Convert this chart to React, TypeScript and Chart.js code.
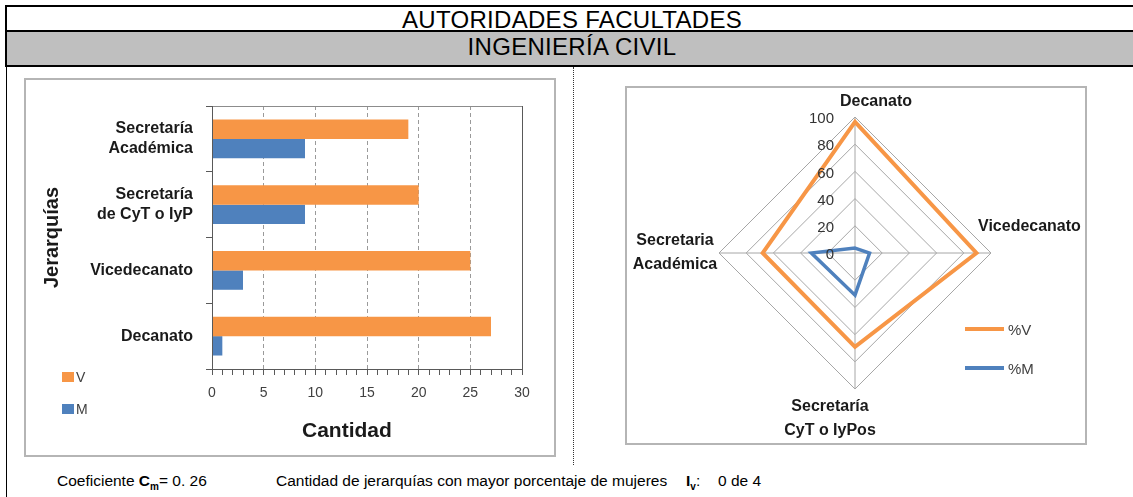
import React, { useEffect, useRef } from 'react';
import { Chart, registerables } from 'chart.js';

Chart.register(...registerables);

// ---------- data ----------
const barCategories: string[][] = [
  ['Secretaría', 'Académica'],
  ['Secretaría', 'de CyT o IyP'],
  ['Vicedecanato'],
  ['Decanato'],
];
const barSeriesNames = ['V', 'M'];
const barV = [19, 20, 25, 27];
const barM = [9, 9, 3, 1];
const barAxisMax = 30;
const barMajorStep = 5;

const radarLabels: string[][] = [
  ['Decanato'],
  ['Vicedecanato'],
  ['Secretaría', 'CyT o IyPos'],
  ['Secretaria', 'Académica'],
];
const radarSeriesNames = ['%V', '%M'];
const radarV = [96.4, 89.3, 69.0, 67.9];
const radarM = [3.6, 10.7, 31.0, 32.1];
const radarMax = 100;
const radarStep = 20;

// ---------- styles ----------
const ORANGE = '#F79646';
const BLUE = '#4F81BD';
const FONT = 'Arial, "Liberation Sans", sans-serif';

// label placement nudges for the radar point labels (dx, dy of first line, align)
const radarLabelPlacement = [
  { dx: 21, dy: -15.5, align: 'center' as CanvasTextAlign },
  { dx: -13, dy: -26, align: 'left' as CanvasTextAlign },
  { dx: -25, dy: 18, align: 'center' as CanvasTextAlign },
  { dx: -44, dy: -12, align: 'center' as CanvasTextAlign },
];

const plotFrame = {
  id: 'plotFrame',
  afterDatasetsDraw(chart: any) {
    const { ctx, chartArea: a } = chart;
    ctx.save();
    ctx.strokeStyle = '#8c8c8c';
    ctx.lineWidth = 1;
    ctx.beginPath();
    ctx.moveTo(Math.round(a.left), Math.round(a.top) + 0.5);
    ctx.lineTo(Math.round(a.right) + 0.5, Math.round(a.top) + 0.5);
    ctx.stroke();
    ctx.strokeStyle = '#595959';
    ctx.beginPath();
    ctx.moveTo(Math.round(a.right) + 0.5, Math.round(a.top));
    ctx.lineTo(Math.round(a.right) + 0.5, Math.round(a.bottom));
    ctx.stroke();
    ctx.restore();
  },
};

const radarText = {
  id: 'radarText',
  afterDatasetsDraw(chart: any) {
    const { ctx } = chart;
    const s = chart.scales.r;
    ctx.save();
    // tick labels
    ctx.fillStyle = '#333333';
    ctx.font = `15px ${FONT}`;
    ctx.textAlign = 'right';
    ctx.textBaseline = 'middle';
    s.ticks.forEach((t: any) => {
      const y = s.yCenter - s.getDistanceFromCenterForValue(t.value);
      ctx.fillText(String(t.value), s.xCenter - 21, y + 2);
    });
    // point labels
    ctx.fillStyle = '#1a1a1a';
    ctx.font = `bold 16px ${FONT}`;
    const lh = 23.5;
    radarLabels.forEach((lines, i) => {
      const p = s.getPointPosition(i, s.drawingArea);
      const pl = radarLabelPlacement[i];
      ctx.textAlign = pl.align;
      lines.forEach((line, j) => {
        ctx.fillText(line, p.x + pl.dx, p.y + pl.dy + j * lh);
      });
    });
    ctx.restore();
  },
};

function BarChart() {
  const ref = useRef<HTMLCanvasElement>(null);
  useEffect(() => {
    if (!ref.current) return;
    const chart = new Chart(ref.current, {
      type: 'bar',
      data: {
        labels: barCategories as any,
        datasets: [
          { label: barSeriesNames[0], data: barV, backgroundColor: ORANGE, borderWidth: 0, categoryPercentage: 0.59, barPercentage: 1 },
          { label: barSeriesNames[1], data: barM, backgroundColor: BLUE, borderWidth: 0, categoryPercentage: 0.59, barPercentage: 1 },
        ],
      },
      options: {
        indexAxis: 'y',
        responsive: false,
        animation: false,
        layout: { padding: { left: 0, right: 32, top: 26, bottom: 0 } },
        plugins: { legend: { display: false }, tooltip: { enabled: false } },
        scales: {
          x: {
            type: 'linear',
            min: 0,
            max: barAxisMax,
            ticks: {
              stepSize: 1,
              autoSkip: false,
              maxRotation: 0,
              minRotation: 0,
              padding: 10,
              color: '#404040',
              font: { family: FONT, size: 14 },
              callback: (v: any) => (Math.round(v) % barMajorStep === 0 ? String(Math.round(v)) : ''),
            },
            grid: {
              color: (ctx: any) => {
                const v = Math.round(ctx.tick ? ctx.tick.value : -1);
                return v % barMajorStep === 0 && v > 0 && v < barAxisMax ? '#9a9a9a' : 'rgba(0,0,0,0)';
              },
              tickColor: '#595959',
              tickLength: 6,
              lineWidth: 1,
            },
            border: { display: true, color: '#595959', width: 1, dash: [4, 3], z: 1 },
            afterFit: (s: any) => {
              s.height = 86;
              s.paddingLeft = 0;
              s.paddingRight = 0;
            },
          } as any,
          y: {
            ticks: {
              padding: 13,
              color: '#1a1a1a',
              font: { family: FONT, size: 16, weight: 'bold', lineHeight: 1.25 },
            },
            grid: { drawOnChartArea: false, tickLength: 6, tickColor: '#595959' },
            border: { color: '#595959', z: 1 },
            title: {
              display: true,
              text: 'Jerarquías',
              color: '#1a1a1a',
              font: { family: FONT, size: 20, weight: 'bold' },
              padding: { top: 14, bottom: 0 },
            },
            afterFit: (s: any) => {
              s.width = 186;
              s.paddingTop = 0;
              s.paddingBottom = 0;
            },
          } as any,
        },
      },
      plugins: [plotFrame],
    });
    return () => chart.destroy();
  }, []);
  return <canvas ref={ref} width={528} height={375} style={{ position: 'absolute', left: 26, top: 80 }} />;
}

function RadarChart() {
  const ref = useRef<HTMLCanvasElement>(null);
  useEffect(() => {
    if (!ref.current) return;
    const chart = new Chart(ref.current, {
      type: 'radar',
      data: {
        labels: radarLabels as any,
        datasets: [
          { label: radarSeriesNames[0], data: radarV, borderColor: ORANGE, backgroundColor: 'rgba(0,0,0,0)', borderWidth: 4, pointRadius: 0, fill: false },
          { label: radarSeriesNames[1], data: radarM, borderColor: BLUE, backgroundColor: 'rgba(0,0,0,0)', borderWidth: 3.5, pointRadius: 0, fill: false },
        ],
      },
      options: {
        responsive: false,
        animation: false,
        layout: { padding: { left: 92, top: 29, right: 94, bottom: 54 } },
        plugins: { legend: { display: false }, tooltip: { enabled: false } },
        scales: {
          r: {
            min: 0,
            max: radarMax,
            ticks: { stepSize: radarStep, display: false },
            pointLabels: { display: false },
            grid: { color: '#a6a6a6', lineWidth: 1 },
            angleLines: { color: '#a6a6a6', lineWidth: 1 },
          },
        },
      },
      plugins: [radarText],
    });
    return () => chart.destroy();
  }, []);
  return <canvas ref={ref} width={458} height={355} style={{ position: 'absolute', left: 627, top: 88 }} />;
}

const abs = (s: React.CSSProperties): React.CSSProperties => ({ position: 'absolute', ...s });
const foot: React.CSSProperties = { position: 'absolute', top: 473, fontSize: 15.5, lineHeight: '15px', whiteSpace: 'nowrap' };
const sub: React.CSSProperties = { fontSize: 10, verticalAlign: 'sub', lineHeight: 0 };

export default function App() {
  return (
    <div style={abs({ left: 0, top: 0, width: 1133, height: 497, overflow: 'hidden', background: '#fff', fontFamily: FONT, color: '#000' })}>
      {/* table header */}
      <div style={abs({ left: 5, top: 5, width: 1140, height: 2, background: '#000' })} />
      <div style={abs({ left: 5, top: 8, width: 1134, height: 24, lineHeight: '24px', fontSize: 24, textAlign: 'center', letterSpacing: 0.3, whiteSpace: 'nowrap' })}>
        AUTORIDADES FACULTADES
      </div>
      <div style={abs({ left: 5, top: 30, width: 1140, height: 2, background: '#000' })} />
      <div style={abs({ left: 5, top: 32, width: 1140, height: 33, background: '#BFBFBF' })} />
      <div style={abs({ left: 5, top: 35, width: 1134, height: 24, lineHeight: '24px', fontSize: 24, textAlign: 'center', letterSpacing: 0.3, whiteSpace: 'nowrap' })}>
        INGENIERÍA CIVIL
      </div>
      <div style={abs({ left: 5, top: 65, width: 1140, height: 2, background: '#000' })} />
      <div style={abs({ left: 5, top: 5, width: 2, height: 62, background: '#000' })} />
      <div style={abs({ left: 6, top: 67, width: 1, height: 430, background: '#000' })} />
      <div style={abs({ left: 573, top: 67, width: 0, height: 398, borderLeft: '1px dotted #333' })} />

      {/* bar chart panel */}
      <div style={abs({ left: 24, top: 78, width: 532, height: 379, border: '2px solid #B5B5B5', boxSizing: 'border-box' })} />
      <BarChart />
      <div style={abs({ left: 302, top: 419, fontSize: 21, lineHeight: '21px', fontWeight: 'bold', color: '#1a1a1a', whiteSpace: 'nowrap' })}>Cantidad</div>
      <div style={abs({ left: 62, top: 372, width: 12, height: 10, background: ORANGE })} />
      <div style={abs({ left: 76, top: 370, fontSize: 14, lineHeight: '14px', color: '#404040' })}>{barSeriesNames[0]}</div>
      <div style={abs({ left: 62, top: 404, width: 12, height: 10, background: BLUE })} />
      <div style={abs({ left: 76, top: 402, fontSize: 14, lineHeight: '14px', color: '#404040' })}>{barSeriesNames[1]}</div>

      {/* radar panel */}
      <div style={abs({ left: 625, top: 86, width: 462, height: 359, border: '2px solid #B5B5B5', boxSizing: 'border-box' })} />
      <RadarChart />
      <div style={abs({ left: 965, top: 327, width: 39, height: 4, background: ORANGE })} />
      <div style={abs({ left: 1008, top: 322, fontSize: 15, lineHeight: '15px', color: '#404040' })}>{radarSeriesNames[0]}</div>
      <div style={abs({ left: 965, top: 366, width: 39, height: 4, background: BLUE })} />
      <div style={abs({ left: 1008, top: 361, fontSize: 15, lineHeight: '15px', color: '#404040' })}>{radarSeriesNames[1]}</div>

      {/* footnote */}
      <div style={{ ...foot, left: 57 }}>
        Coeficiente <b>C</b><b style={sub}>m</b>= 0. 26
      </div>
      <div style={{ ...foot, left: 276 }}>Cantidad de jerarquías con mayor porcentaje de mujeres</div>
      <div style={{ ...foot, left: 686 }}>
        <b>I</b><b style={sub}>v</b>:
      </div>
      <div style={{ ...foot, left: 718 }}>0 de 4</div>
    </div>
  );
}
